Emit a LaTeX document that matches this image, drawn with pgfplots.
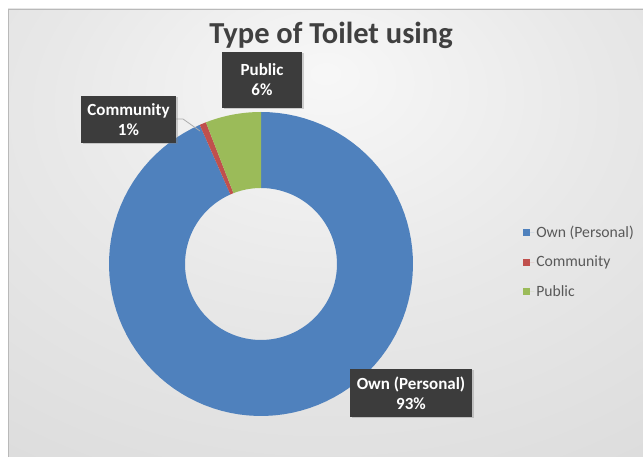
\documentclass[border=0pt]{standalone}
\usepackage{pgfplots}
\pgfplotsset{compat=1.18}
\usepackage{pgfplotstable}
\usepackage{fontspec}
\setmainfont{Carlito}
\usetikzlibrary{shadows}

\definecolor{cOwn}{RGB}{79,129,189}
\definecolor{cCom}{RGB}{192,80,77}
\definecolor{cPub}{RGB}{155,187,89}
\definecolor{txt}{RGB}{64,64,64}
\definecolor{legtxt}{RGB}{89,89,89}
\definecolor{lab}{RGB}{60,60,60}

\pgfplotstableread{
label value
Own 93.4
Community 0.7
Public 5.9
}\toilettable

\pgfdeclareradialshading{bgshade}{\pgfpoint{0bp}{18bp}}{color(0bp)=(white!97!black); color(22bp)=(white!91!black); color(85bp)=(white!78!black); color(100bp)=(white!78!black)}

% start angle, end angle, colour
\newcommand{\donutslice}[3]{%
  \addplot[fill=#3, draw=none, domain=0:3, samples=301, variable=\t]
   ({(\t<=1 ? 1 : 0.5)*cos(\t<=1 ? (#1)+((#2)-(#1))*\t : (\t>=2 ? (#2)-((#2)-(#1))*(\t-2) : (#2)))},
    {(\t<=1 ? 1 : 0.5)*sin(\t<=1 ? (#1)+((#2)-(#1))*\t : (\t>=2 ? (#2)-((#2)-(#1))*(\t-2) : (#2)))});
}

\begin{document}
\begin{tikzpicture}
\useasboundingbox (0,0) rectangle (643pt,457pt);
\fill[white] (0,0) rectangle (643pt,457pt);
\shade[shading=bgshade] (8pt,0pt) rectangle (643pt,448pt);
\draw[gray!55, line width=0.6pt] (8pt,0pt) -- (8pt,448pt) -- (643pt,448pt);

\pgfplotstablegetelem{0}{value}\of\toilettable \let\vOwn\pgfplotsretval
\pgfplotstablegetelem{1}{value}\of\toilettable \let\vCom\pgfplotsretval
\pgfplotstablegetelem{2}{value}\of\toilettable \let\vPub\pgfplotsretval
\pgfmathsetmacro{\aA}{90}
\pgfmathsetmacro{\aB}{90-3.6*\vOwn}
\pgfmathsetmacro{\aC}{\aB-3.6*\vCom}
\pgfmathsetmacro{\aD}{\aC-3.6*\vPub}

\begin{axis}[
  at={(261pt,193pt)}, anchor=center,
  scale only axis, width=304pt, height=304pt,
  xmin=-1, xmax=1, ymin=-1, ymax=1,
  hide axis, clip=false,
  legend image code/.code={\path[#1] (0pt,-3.5pt) rectangle (7pt,3.5pt); \path (0pt,0pt) -- (11pt,0pt);},
  legend style={at={(1.362,0.507)}, anchor=west, draw=none, fill=none,
    font=\fontsize{15.7}{18}\selectfont\color{legtxt}, row sep=13pt,
    inner sep=0pt},
  legend cell align=left,
]
\donutslice{\aA}{\aB}{cOwn}
\addlegendentry{Own (Personal)}
\donutslice{\aB}{\aC}{cCom}
\addlegendentry{Community}
\donutslice{\aC}{\aD}{cPub}
\addlegendentry{Public}
\end{axis}

\node[font=\bfseries\fontsize{30.5}{36}\selectfont, text=txt, anchor=base] at (331pt,413pt) {Type of Toilet using};

\draw[gray!65, line width=0.8pt] (176pt,338pt) -- (183pt,338pt) -- (200pt,326pt);

\tikzset{lbl/.style={fill=lab, text=white, font=\bfseries\fontsize{17}{20}\selectfont, align=center, inner sep=0pt,
  drop shadow={shadow xshift=1.5pt, shadow yshift=-1.5pt, opacity=0.35}}}
\node[lbl, minimum width=80pt, minimum height=56pt] at (262pt,377pt) {Public\\6\%};
\node[lbl, minimum width=95pt, minimum height=47pt] at (128.5pt,337.5pt) {Community\\1\%};
\node[lbl, minimum width=122pt, minimum height=48pt] at (411pt,64pt) {Own (Personal)\\93\%};
\end{tikzpicture}
\end{document}
